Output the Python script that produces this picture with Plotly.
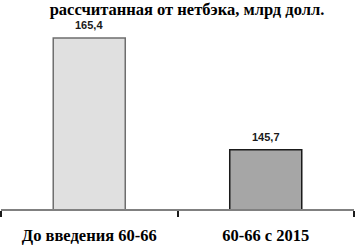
import plotly.graph_objects as go

categories = ["До введения 60-66", "60-66 с 2015"]
values = [165.4, 145.7]
value_labels = ["165,4", "145,7"]
title_text = "рассчитанная от нетбэка, млрд долл."

W, H = 355, 246
ml, mr, mt, mb = 1, 1, 20, 37
px_per_unit = 5.67
ymin = 135.24
ymax = ymin + (H - mt - mb) / px_per_unit

SERIF = "Liberation Serif, Times New Roman, serif"

fig = go.Figure()
fig.add_trace(go.Bar(
    x=categories, y=values,
    width=0.408,
    marker=dict(color=["#e0e0e0", "#a6a6a6"],
                line=dict(color=["#6e6e6e", "#1a1a1a"], width=1.5)),
    hoverinfo="skip",
))

for c, v, t in zip(categories, values, value_labels):
    fig.add_annotation(x=c, y=v, text="<b>%s</b>" % t, showarrow=False,
                       yanchor="bottom", yshift=5,
                       font=dict(family="Liberation Sans", size=11, color="#1a1a1a"))

fig.update_layout(
    width=W, height=H,
    margin=dict(l=ml, r=mr, t=mt, b=mb, pad=0, autoexpand=False),
    paper_bgcolor="white", plot_bgcolor="white",
    showlegend=False,
    title=dict(text="<b>%s</b>" % title_text, xref="container", yref="container",
               x=187 / W, xanchor="center", y=1 - 9 / H, yanchor="middle",
               font=dict(family=SERIF, size=16.5, color="black")),
    xaxis=dict(showgrid=False, zeroline=False, showline=True, linecolor="#808080", linewidth=2,
               automargin=False, range=[-0.5, 1.5],
               ticks="outside", tickson="boundaries", ticklen=6, tickcolor="#1a1a1a", tickwidth=1.5,
               tickfont=dict(family=SERIF, size=16.5, color="black"),
               ticklabelstandoff=10),
    yaxis=dict(visible=False, range=[ymin, ymax], automargin=False),
)
fig.update_xaxes(tickvals=categories, ticktext=["<b>%s</b>" % c for c in categories])

fig.write_html("out.html", config={"displayModeBar": False},
               post_script="document.body.style.margin='0';document.body.style.padding='0';")
